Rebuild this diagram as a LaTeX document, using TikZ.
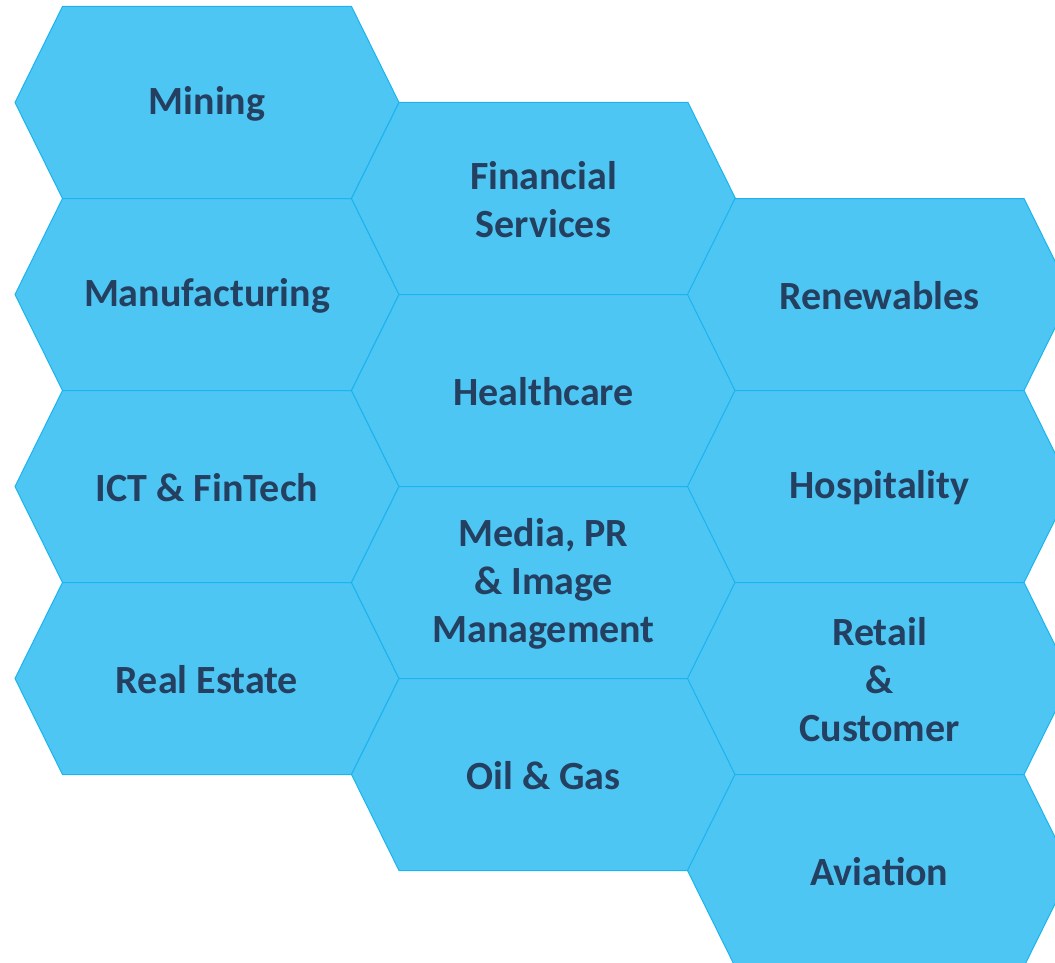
\documentclass[tikz,border=0pt]{standalone}
\usepackage{fontspec}
\setmainfont{Carlito}
\usepackage{tikz}
\definecolor{hexblue}{HTML}{4DC6F3}
\definecolor{hexedge}{HTML}{1CB4EE}
\definecolor{navytext}{HTML}{243F60}
\tikzset{
  hexcell/.style={fill=hexblue,draw=hexedge,line width=1pt,line join=miter},
  hextext/.style={text=navytext,font=\fontsize{40}{48}\selectfont\bfseries,align=center,inner sep=0pt}
}

\begin{document}
\begin{tikzpicture}[x=1pt,y=-1pt]
  \useasboundingbox (0,0) rectangle (1055,963);
  \clip (0,0) rectangle (1055,963);
  \foreach \cx/\cy/\nm/\txt in {
      207/102.5/mining/Mining,
      207/294.5/manufacturing/Manufacturing,
      207/486.5/ict/{ICT \& FinTech},
      207/678.5/realestate/Real Estate,
      543.5/198.5/financial/{Financial\\Services},
      543.5/390.5/healthcare/Healthcare,
      543.5/582.5/media/{Media, PR\\\& Image\\Management},
      543.5/774.5/oilgas/{Oil \& Gas},
      879.5/294.5/renewables/Renewables,
      879.5/486.5/hospitality/Hospitality,
      879.5/678.5/retail/{Retail\\\&\\Customer},
      879.5/870.5/aviation/Aviation}
  {
    \filldraw[hexcell] (\cx-192,\cy) -- (\cx-144.5,\cy-96) -- (\cx+144.5,\cy-96)
      -- (\cx+192,\cy) -- (\cx+144.5,\cy+96) -- (\cx-144.5,\cy+96) -- cycle;
    \node[hextext] (\nm) at (\cx,\cy+1) {\txt};
  }
\end{tikzpicture}
\end{document}
